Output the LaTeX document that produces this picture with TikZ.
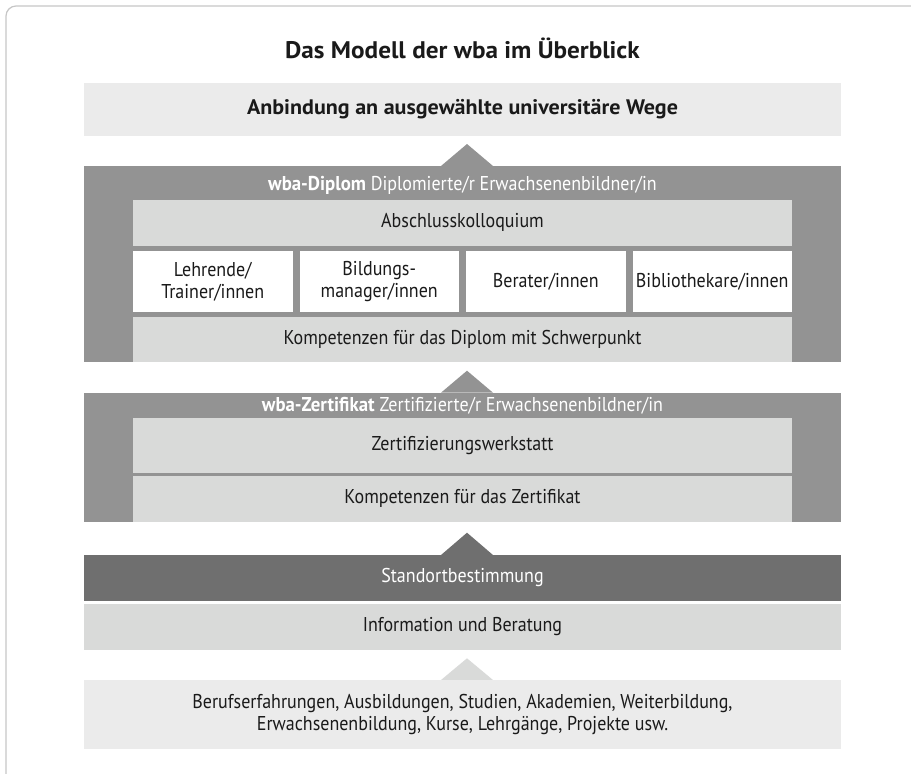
\documentclass[tikz,border=0pt]{standalone}
\usepackage{fontspec}
\setmainfont[FakeStretch=0.9,BoldFeatures={FakeStretch=0.94}]{PT Sans}
\newfontfamily\headfont[FakeStretch=1.05]{PT Sans}
\definecolor{framec}{HTML}{C6C6C6}
\definecolor{palec}{HTML}{EBEBEB}
\definecolor{lightc}{HTML}{D9DAD9}
\definecolor{midc}{HTML}{939393}
\definecolor{darkc}{HTML}{6F6F6F}
\definecolor{txtc}{HTML}{1A1A1A}
\begin{document}
\begin{tikzpicture}[x=1pt,y=-1pt,
  blk/.style={rectangle,inner sep=0pt,outer sep=0pt,draw=none,text=txtc,
              font=\fontsize{20}{22}\selectfont,align=center},
  hdr/.style={inner sep=0pt,text=white,font=\fontsize{20}{22}\selectfont}]
\useasboundingbox (0,0) rectangle (911,774);
% frame
\draw[framec,line width=1.2pt] (6,774) -- (6,16) arc[start angle=180,end angle=90,x radius=10pt,y radius=10pt] -- (911,6);
% title
\node[blk,font=\headfont\fontsize{24}{28}\selectfont\bfseries] (title) at (462.5,48) {Das Modell der wba im Überblick};
% top box
\node[blk,fill=palec,minimum width=757,minimum height=53,font=\headfont\fontsize{21}{24}\selectfont\bfseries] (top) at (462.5,109.5) {Anbindung an ausgewählte universitäre Wege};
% diplom block
\node[blk,fill=midc,minimum width=757,minimum height=196] (dipl) at (462.5,264) {};
\fill[midc] (441,166) -- (467,144) -- (493,166) -- cycle;
\node[hdr] (diplh) at (462.5,185) {\textbf{wba-Diplom} Diplomierte/r Erwachsenenbildner/in};
\node[blk,fill=lightc,minimum width=659,minimum height=45.7] (absch) at (462.5,222.85) {Abschlusskolloquium};
\node[blk,fill=white,minimum width=159.5,minimum height=60.7] (lehr) at (212.75,281.35) {Lehrende/\\Trainer/innen};
\node[blk,fill=white,minimum width=159.5,minimum height=60.7] (bild) at (379.25,281.35) {Bildungs-\\manager/innen};
\node[blk,fill=white,minimum width=159.5,minimum height=60.7] (ber) at (545.75,281.35) {Berater/innen};
\node[blk,fill=white,minimum width=159.5,minimum height=60.7] (bib) at (712.25,281.35) {Bibliothekare/innen};
\node[blk,fill=lightc,minimum width=659,minimum height=45.6] (kompd) at (462.5,339.5) {Kompetenzen für das Diplom mit Schwerpunkt};
% zertifikat block
\node[blk,fill=midc,minimum width=757,minimum height=129] (zert) at (462.5,457.2) {};
\fill[midc] (441,392.7) -- (467,370.7) -- (493,392.7) -- cycle;
\node[hdr] (zerth) at (462.5,405.5) {\textbf{wba-Zertifikat} Zertifizierte/r Erwachsenenbildner/in};
\node[blk,fill=lightc,minimum width=659,minimum height=55] (werk) at (462.5,445.2) {Zertifizierungswerkstatt};
\node[blk,fill=lightc,minimum width=659,minimum height=46] (kompz) at (462.5,498.7) {Kompetenzen für das Zertifikat};
% standort
\fill[darkc] (441,555) -- (467,532.7) -- (493,555) -- cycle;
\node[blk,fill=darkc,text=white,minimum width=757,minimum height=45.7] (stand) at (462.5,577.85) {Standortbestimmung};
\node[blk,fill=lightc,minimum width=757,minimum height=46] (info) at (462.5,627) {Information und Beratung};
% bottom
\fill[lightc] (441,680) -- (467,658.3) -- (493,680) -- cycle;
\node[blk,fill=palec,minimum width=757,minimum height=68.7] (beruf) at (462.5,714.35) {Berufserfahrungen, Ausbildungen, Studien, Akademien, Weiterbildung,\\Erwachsenenbildung, Kurse, Lehrgänge, Projekte usw.};
\end{tikzpicture}
\end{document}
